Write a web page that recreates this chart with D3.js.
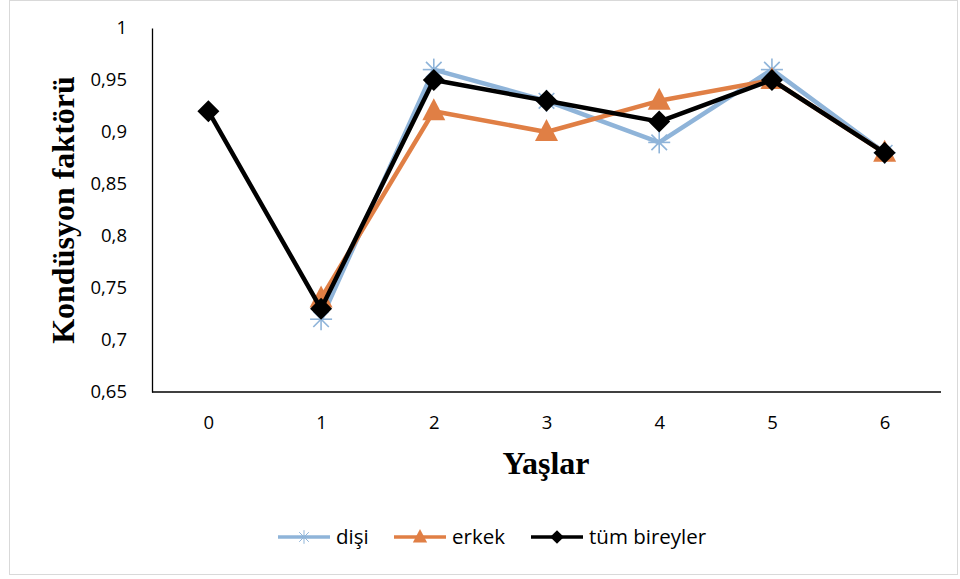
<!DOCTYPE html>
<html>
<head>
<meta charset="utf-8">
<script src="https://cdn.jsdelivr.net/npm/d3@7"></script>
<style>
  html, body { margin: 0; padding: 0; background: #fff; }
  svg { display: block; }
</style>
</head>
<body>
<svg id="chart" width="960" height="579"></svg>
<script>
// Age classes and condition factor per group
const ages = ["0", "1", "2", "3", "4", "5", "6"];
const disi = [null, 0.72, 0.96, 0.93, 0.89, 0.96, 0.88];
const erkek = [null, 0.74, 0.92, 0.90, 0.93, 0.95, 0.88];
const tum = [0.92, 0.73, 0.95, 0.93, 0.91, 0.95, 0.88];
const yTicks = [0.65, 0.7, 0.75, 0.8, 0.85, 0.9, 0.95, 1];
const seriesNames = ["dişi", "erkek", "tüm bireyler"];

const W = 960, H = 579;
const margin = { left: 152, right: 19, top: 28, bottom: 187 };
const svg = d3.select("#chart");

// outer frame
svg.append("rect")
  .attr("x", 9.5).attr("y", 0.5)
  .attr("width", W - 12).attr("height", H - 5)
  .attr("fill", "#fff").attr("stroke", "#d9d9d9").attr("stroke-width", 1);

const x = d3.scalePoint()
  .domain(ages)
  .range([margin.left, W - margin.right])
  .padding(0.5);
const y = d3.scaleLinear()
  .domain([0.65, 1])
  .range([H - margin.bottom, margin.top]);

const fmt = v => String(v).replace(".", ",");
const tickFont = "'Open Sans', 'Liberation Sans', sans-serif";
const titleFont = "'Liberation Serif', 'Times New Roman', serif";

// y axis
const yAxis = svg.append("g")
  .attr("transform", `translate(${margin.left},0)`)
  .call(d3.axisLeft(y).tickValues(yTicks).tickFormat(fmt).tickSize(0).tickPadding(25));
yAxis.select(".domain").attr("stroke", "#000").attr("stroke-width", 1.3);
yAxis.selectAll("text").style("font-family", tickFont).style("font-size", "18.5px").attr("fill", "#000");

// x axis
const xAxis = svg.append("g")
  .attr("transform", `translate(0,${H - margin.bottom})`)
  .call(d3.axisBottom(x).tickSize(0).tickPadding(24));
xAxis.select(".domain")
  .attr("d", `M${margin.left},0H${W - margin.right}`)
  .attr("stroke", "#000").attr("stroke-width", 1.3);
xAxis.selectAll("text").style("font-family", tickFont).style("font-size", "18.5px").attr("fill", "#000");

// axis titles
svg.append("text")
  .attr("transform", `translate(74,${(margin.top + H - margin.bottom) / 2}) rotate(-90)`)
  .attr("text-anchor", "middle")
  .attr("font-family", titleFont)
  .attr("font-weight", "bold").attr("font-size", 32)
  .text("Kondüsyon faktörü");
svg.append("text")
  .attr("x", 546).attr("y", 474)
  .attr("text-anchor", "middle")
  .attr("font-family", titleFont)
  .attr("font-weight", "bold").attr("font-size", 32)
  .text("Yaşlar");

const series = [
  { name: seriesNames[0], values: disi, color: "#8fb4d9", marker: "star" },
  { name: seriesNames[1], values: erkek, color: "#e07f45", marker: "triangle" },
  { name: seriesNames[2], values: tum, color: "#000000", marker: "diamond" }
];

const line = d3.line()
  .defined(d => d.v != null)
  .x(d => x(d.a))
  .y(d => y(d.v));

function drawMarker(g, type, color) {
  if (type === "star") {
    const r = 11;
    for (let i = 0; i < 4; i++) {
      const ang = i * Math.PI / 4 + Math.PI / 2;
      g.append("line")
        .attr("x1", -r * Math.cos(ang)).attr("y1", -r * Math.sin(ang))
        .attr("x2", r * Math.cos(ang)).attr("y2", r * Math.sin(ang))
        .attr("stroke", color).attr("stroke-width", 1.6);
    }
  } else if (type === "triangle") {
    g.append("path")
      .attr("d", "M0,-13 L11.5,9 L-11.5,9 Z")
      .attr("fill", color);
  } else {
    g.append("path")
      .attr("d", "M0,-11 L11,0 L0,11 L-11,0 Z")
      .attr("fill", color);
  }
}

series.forEach(s => {
  const pts = ages.map((a, i) => ({ a, v: s.values[i] }));
  svg.append("path")
    .datum(pts)
    .attr("fill", "none")
    .attr("stroke", s.color)
    .attr("stroke-width", 4.5)
    .attr("stroke-linejoin", "round")
    .attr("d", line);
  pts.filter(d => d.v != null).forEach(d => {
    const g = svg.append("g").attr("transform", `translate(${x(d.a)},${y(d.v)})`);
    drawMarker(g, s.marker, s.color);
  });
});

// legend
const legendItems = [
  { s: series[0], x: 278, tx: 336 },
  { s: series[1], x: 394, tx: 452 },
  { s: series[2], x: 531, tx: 589 }
];
legendItems.forEach(({ s, x: lx, tx }) => {
  const ly = 537;
  svg.append("line")
    .attr("x1", lx).attr("x2", lx + 52)
    .attr("y1", ly).attr("y2", ly)
    .attr("stroke", s.color).attr("stroke-width", 3.5);
  const g = svg.append("g").attr("transform", `translate(${lx + 26},${ly}) scale(0.62)`);
  drawMarker(g, s.marker, s.color);
  svg.append("text")
    .attr("x", tx).attr("y", ly + 7)
    .attr("font-family", tickFont).attr("font-size", 20.5)
    .attr("fill", "#000")
    .text(s.name);
});
</script>
</body>
</html>
